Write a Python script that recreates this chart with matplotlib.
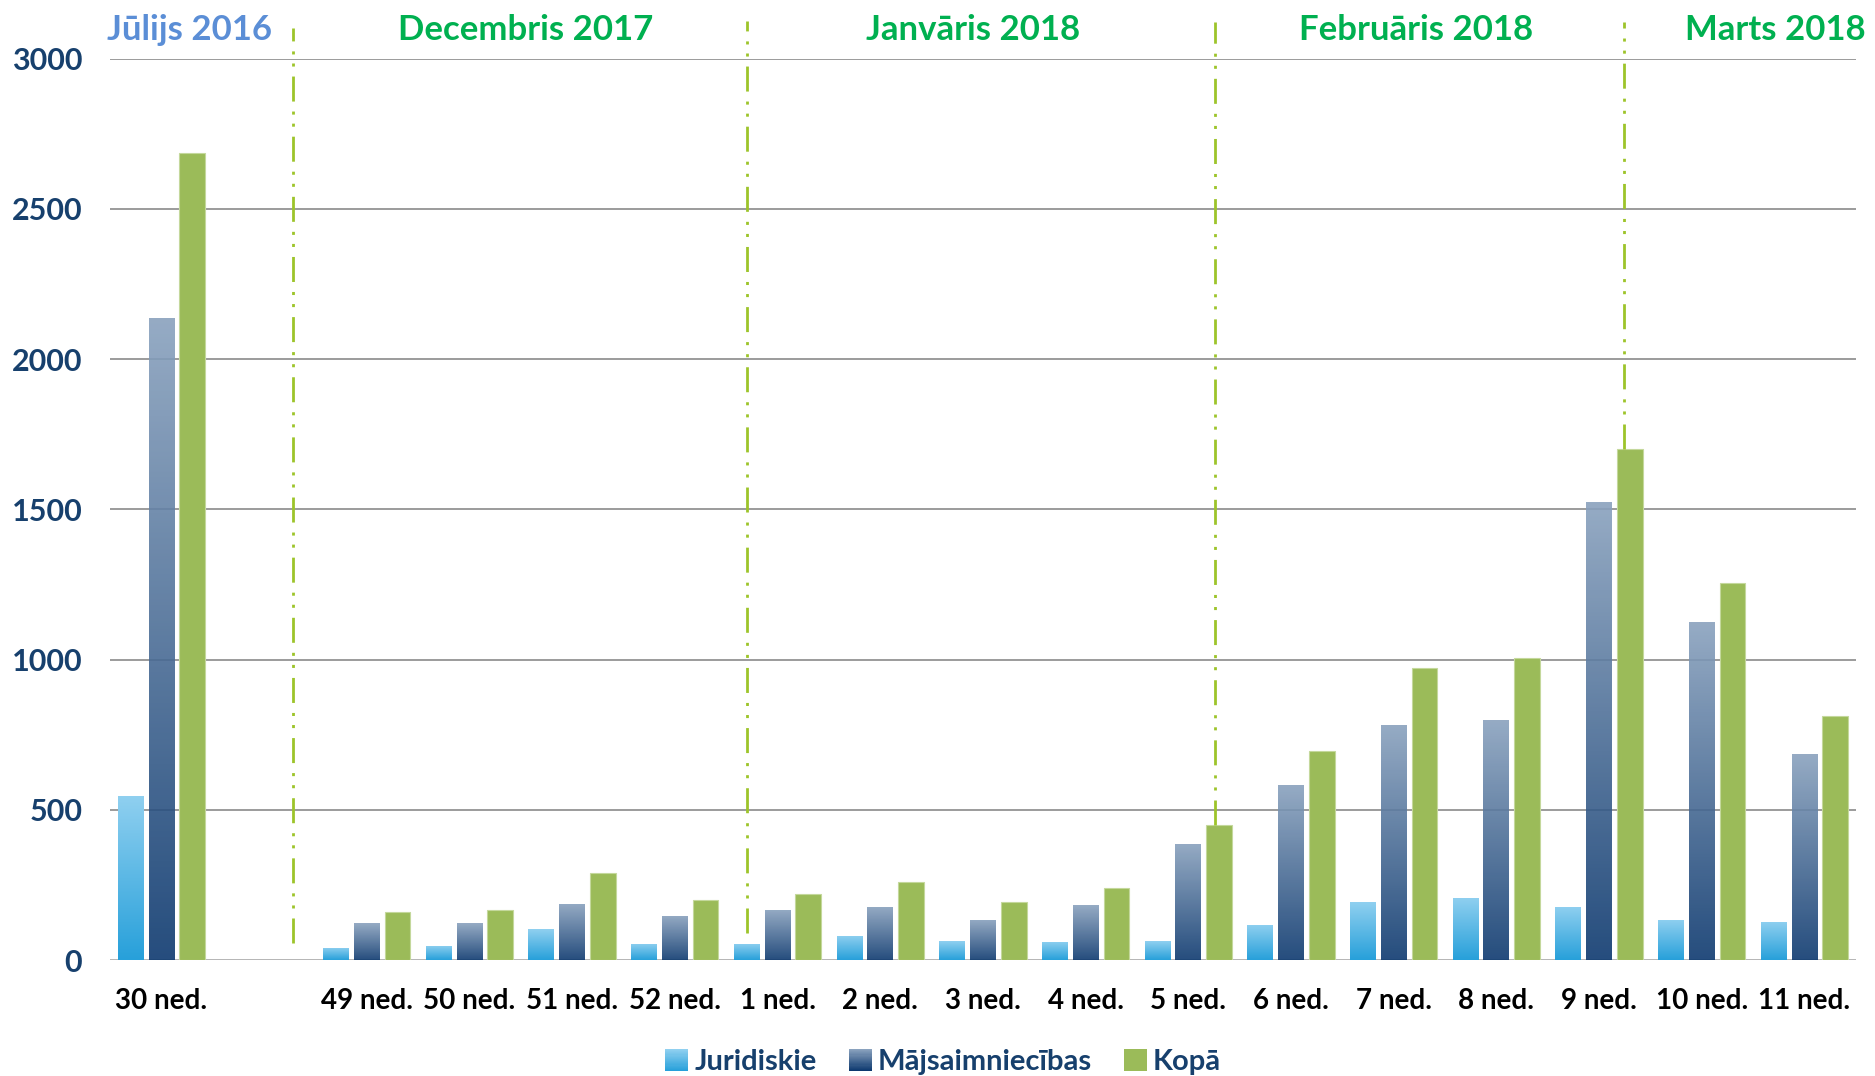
import numpy as np
import matplotlib
matplotlib.use("Agg")
import matplotlib.pyplot as plt
from matplotlib.colors import LinearSegmentedColormap
from matplotlib.patches import Patch, Rectangle
from matplotlib.legend_handler import HandlerBase

# ---------------- data ----------------
categories = ['30 ned.', '49 ned.', '50 ned.', '51 ned.', '52 ned.', '1 ned.', '2 ned.',
              '3 ned.', '4 ned.', '5 ned.', '6 ned.', '7 ned.', '8 ned.', '9 ned.',
              '10 ned.', '11 ned.']
juridiskie = [547, 40, 47, 103, 54, 54, 80, 63, 60, 63, 118, 193, 207, 177, 134, 127]
majsaimniecibas = [2138, 123, 123, 187, 147, 167, 178, 134, 183, 387, 582, 782, 798, 1524, 1124, 684]
kopa = [2684, 159, 168, 290, 199, 219, 258, 194, 240, 449, 697, 971, 1004, 1702, 1255, 812]
series_names = ['Juridiskie', 'Mājsaimniecības', 'Kopā']

month_labels = ['Jūlijs 2016', 'Decembris 2017', 'Janvāris 2018', 'Februāris 2018', 'Marts 2018']
month_label_x = [0.27, 3.55, 7.90, 12.22, 15.72]
divider_x = [1.28, 5.70, 10.26, 14.24]
divider_bottom = [55, 89, 449, 1702]
divider_top = [3100, 3125, 3120, 3120]
yticks = [0, 500, 1000, 1500, 2000, 2500, 3000]

# ---------------- style ----------------
FONT = ['Liberation Sans Narrow', 'Lato', 'DejaVu Sans']
plt.rcParams['font.family'] = FONT
plt.rcParams['lines.scale_dashes'] = False

J_COLS = ('#27A0DA', '#90D0F0')
M_COLS = ('#0D396F', '#8AA2BE')
K_COL = '#9BBB59'

fig = plt.figure(figsize=(18.75, 10.76), dpi=100)
ax = fig.add_axes([0.0587, 0.1078, 0.931, 0.8378])

n = len(categories)
x = np.arange(n) + (np.arange(n) >= 1)  # gap slot after first category
bw = 0.25
off = 0.30

for v in yticks:
    if v == 0:
        ax.axhline(v, color='#A0A0A0', lw=1.8, zorder=1)
    else:
        ax.axhline(v, color='#8A8A8A', lw=1.2, zorder=1)

b_j = ax.bar(x - off, juridiskie, bw, zorder=2, linewidth=0)
b_m = ax.bar(x, majsaimniecibas, bw, zorder=2, linewidth=0)
b_k = ax.bar(x + off, kopa, bw, zorder=2, color=K_COL, edgecolor='#C4D89C', linewidth=0.8)

grad = np.linspace(0, 1, 256).reshape(-1, 1)


def gradient_bars(bars, bottom_color, top_color, alpha=1.0):
    cmap = LinearSegmentedColormap.from_list('g', [bottom_color, top_color])
    for b in bars:
        x0, y0, w, h = b.get_x(), b.get_y(), b.get_width(), b.get_height()
        b.set_facecolor('none')
        im = ax.imshow(grad, extent=[x0, x0 + w, y0, y0 + h], origin='lower',
                       cmap=cmap, aspect='auto', alpha=alpha, zorder=2,
                       interpolation='bilinear')
        im.set_clip_path(b)


gradient_bars(b_j, *J_COLS)
gradient_bars(b_m, *M_COLS, alpha=0.9)

ax.set_xlim(-0.5, n + 0.5)
ax.set_ylim(0, 3000)

# dividers
for dx, y0, y1 in zip(divider_x, divider_bottom, divider_top):
    ax.plot([dx, dx], [y0, y1], color='#9DC42A', lw=2.0, clip_on=False, zorder=4,
            dashes=(18, 7.2, 2.2, 6.5, 2.2, 7.2), solid_capstyle='butt', dash_capstyle='butt')

# month labels
for i, (lab, mx) in enumerate(zip(month_labels, month_label_x)):
    ax.text(mx, 1.032, lab, transform=ax.get_xaxis_transform(), ha='center', va='center',
            fontsize=25, fontweight='bold', color='#5B8ED6' if i == 0 else '#00B050',
            clip_on=False)

for s in ax.spines.values():
    s.set_visible(False)

ax.set_yticks(yticks)
ax.set_yticklabels([str(v) for v in yticks])
ax.set_xticks(x)
ax.set_xticklabels(categories)
ax.tick_params(axis='y', length=0, pad=20, labelsize=22, labelcolor='#17406D')
ax.tick_params(axis='x', length=0, pad=20, labelsize=20, labelcolor='black')
for t in ax.get_yticklabels() + ax.get_xticklabels():
    t.set_fontweight('bold')


class GradientHandler(HandlerBase):
    def __init__(self, bottom, top, steps=20):
        super().__init__()
        self.cmap = LinearSegmentedColormap.from_list('lg', [bottom, top])
        self.steps = steps

    def create_artists(self, legend, orig_handle, xdescent, ydescent, width, height,
                       fontsize, trans):
        arts = []
        hstep = height / self.steps
        for i in range(self.steps):
            r = Rectangle((-xdescent, -ydescent + i * hstep), width, hstep * 1.05,
                          facecolor=self.cmap(i / (self.steps - 1)), edgecolor='none',
                          transform=trans)
            arts.append(r)
        return arts


hj = Patch(facecolor=J_COLS[0])
hm = Patch(facecolor=M_COLS[0])
hk = Patch(facecolor=K_COL, edgecolor='none')
leg = fig.legend([hj, hm, hk], series_names, loc='center', bbox_to_anchor=(0.503, 0.013),
                 ncol=3, frameon=False, handlelength=0.8, handleheight=0.8,
                 handletextpad=0.2, columnspacing=1.1,
                 handler_map={hj: GradientHandler(*J_COLS), hm: GradientHandler(*M_COLS)},
                 prop={'size': 21, 'weight': 'bold'})
for t in leg.get_texts():
    t.set_color('#17406D')

fig.savefig('out.png', dpi=100)
